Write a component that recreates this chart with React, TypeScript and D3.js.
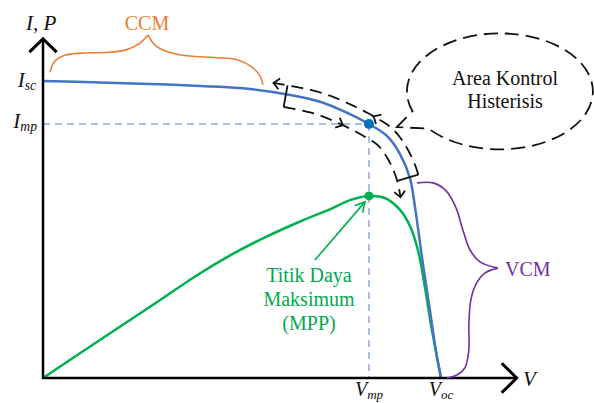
import React, { useEffect, useRef } from "react"
import * as d3 from "d3"

// I-V curve, normalised (Voc = 1, Isc = 1)
const ivVolt = [0, 0.143, 0.269, 0.395, 0.52, 0.621, 0.696, 0.759, 0.819, 0.864, 0.897, 0.922, 0.935, 0.955, 0.972, 0.987, 1.0]
const ivCurr = [1.0, 0.995, 0.99, 0.983, 0.973, 0.953, 0.93, 0.896, 0.855, 0.815, 0.754, 0.673, 0.572, 0.38, 0.229, 0.094, 0]

// P-V curve, same axes
const pvVolt = [0, 0.143, 0.269, 0.394, 0.477, 0.563, 0.646, 0.729, 0.771, 0.819, 0.859, 0.897, 0.922, 0.942, 0.96, 0.975, 1.0]
const pvPow = [0, 0.128, 0.24, 0.352, 0.418, 0.477, 0.527, 0.573, 0.599, 0.613, 0.606, 0.566, 0.512, 0.431, 0.303, 0.178, 0]

const vmp = 0.819
const imp = 0.855
const pmp = 0.613

// braces (V, I)
const ccmLeft = [[0.018, 1.03], [0.028, 1.064], [0.053, 1.086], [0.098, 1.094], [0.156, 1.096], [0.206, 1.104], [0.241, 1.125], [0.264, 1.155]]
const ccmRight = [[0.264, 1.155], [0.281, 1.121], [0.314, 1.098], [0.369, 1.084], [0.432, 1.079], [0.49, 1.071], [0.525, 1.047], [0.545, 1.017], [0.553, 0.987]]
const vcmTop = [[0.94, 0.657], [0.98, 0.657], [1.013, 0.63], [1.038, 0.572], [1.055, 0.498], [1.073, 0.431], [1.098, 0.391], [1.143, 0.37]]
const vcmBottom = [[1.143, 0.37], [1.111, 0.354], [1.088, 0.316], [1.075, 0.263], [1.07, 0.178], [1.07, 0.094], [1.06, 0.034], [1.04, 0.01], [1.015, 0]]

// hysteresis band along the I-V curve
const hystStartV = 0.61
const hystEndI = 0.677
const outerEndV = 0.575
const innerEndI = 0.615
const innerMidV = 0.766
const mppArrow = [[0.683, 0.397], [0.809, 0.593]]

const calloutCenter = [1.148, 0.965]
const calloutTip = [0.889, 0.845]
const calloutLines = ["Area Kontrol", "Histerisis"]
const mppLines = ["Titik Daya", "Maksimum", "(MPP)"]

const W = 594
const H = 403
const serif = "Liberation Serif, serif"

export default function App() {
  const ref = useRef<SVGSVGElement>(null)

  useEffect(() => {
    const svg = d3.select(ref.current)
    svg.selectAll("*").remove()

    const x = d3.scaleLinear().domain([0, 1]).range([43, 441])
    const y = d3.scaleLinear().domain([0, 1]).range([378, 81])

    const chevron = (px: number, py: number, dx: number, dy: number, size: number, spread: number) => {
      const ang = Math.atan2(dy, dx)
      const a1 = ang + Math.PI - spread
      const a2 = ang + Math.PI + spread
      return `M${px + size * Math.cos(a1)},${py + size * Math.sin(a1)}L${px},${py}L${px + size * Math.cos(a2)},${py + size * Math.sin(a2)}`
    }

    // guide lines to MPP
    svg.append("line")
      .attr("x1", x(0)).attr("x2", x(vmp)).attr("y1", y(imp)).attr("y2", y(imp))
      .attr("stroke", "#8FAADC").attr("stroke-width", 1.5).attr("stroke-dasharray", "7,5")
    svg.append("line")
      .attr("x1", x(vmp)).attr("x2", x(vmp)).attr("y1", y(imp)).attr("y2", y(0))
      .attr("stroke", "#8FAADC").attr("stroke-width", 1.5).attr("stroke-dasharray", "7,5")

    const line = d3.line<number[]>().x(d => x(d[0])).y(d => y(d[1])).curve(d3.curveCatmullRom.alpha(0.5))

    const pv = pvVolt.map((v, i) => [v, pvPow[i]])
    svg.append("path").datum(pv).attr("d", line)
      .attr("fill", "none").attr("stroke", "#00B050").attr("stroke-width", 2.5)

    const iv = ivVolt.map((v, i) => [v, ivCurr[i]])
    const blue = svg.append("path").datum(iv).attr("d", line)
      .attr("fill", "none").attr("stroke", "#4472C4").attr("stroke-width", 2.5)

    // axes
    const axisG = svg.append("g").attr("stroke", "#000").attr("fill", "none")
    axisG.append("line").attr("x1", x(0)).attr("x2", x(0)).attr("y1", y(0) + 1).attr("y2", y(1.142)).attr("stroke-width", 2.5)
    axisG.append("line").attr("x1", x(0) - 1).attr("x2", x(1.19)).attr("y1", y(0)).attr("y2", y(0)).attr("stroke-width", 2.5)
    axisG.append("path").attr("d", chevron(x(0), y(1.142), 0, -1, 19, 0.8)).attr("stroke-width", 3)
    axisG.append("path").attr("d", chevron(x(1.19), y(0), 1, 0, 21, 0.78)).attr("stroke-width", 3)

    // braces
    const braceLine = d3.line<number[]>().x(d => x(d[0])).y(d => y(d[1])).curve(d3.curveCatmullRom.alpha(0.5))
    ;[ccmLeft, ccmRight].forEach(b => svg.append("path").attr("d", braceLine(b)).attr("fill", "none").attr("stroke", "#ED7D31").attr("stroke-width", 1.6))
    ;[vcmTop, vcmBottom].forEach(b => svg.append("path").attr("d", braceLine(b)).attr("fill", "none").attr("stroke", "#7030A0").attr("stroke-width", 1.6))

    // hysteresis arrows along the I-V curve
    const node = blue.node() as SVGPathElement
    const total = node.getTotalLength()
    const samples = d3.range(0, total, 0.5).map(l => {
      const p = node.getPointAtLength(l)
      return { l, x: p.x, y: p.y }
    })
    const lenAtX = (px: number) => (samples.find(s => s.x >= px) || samples[samples.length - 1]).l
    const lenAtY = (py: number) => (samples.find(s => s.y >= py) || samples[samples.length - 1]).l
    const at = (l: number) => {
      const p = node.getPointAtLength(l)
      const q = node.getPointAtLength(Math.min(total, l + 1))
      const r = node.getPointAtLength(Math.max(0, l - 1))
      const dx = q.x - r.x
      const dy = q.y - r.y
      const n = Math.hypot(dx, dy)
      return { x: p.x, y: p.y, tx: dx / n, ty: dy / n }
    }
    const off = (l: number, d: number): [number, number] => {
      const a = at(l)
      return [a.x + a.ty * d, a.y - a.tx * d]
    }
    const outerD = 9
    const innerD = -13
    const lStart = lenAtX(x(hystStartV))
    const lEnd = lenAtY(y(hystEndI))
    const lOuterEnd = lenAtX(x(outerEndV))
    const lInnerEnd = lenAtY(y(innerEndI))

    const hyst = svg.append("g").attr("fill", "none").attr("stroke", "#111").attr("stroke-width", 1.8)
    const plain = d3.line<[number, number]>()
    const outerPts = d3.range(lEnd, lOuterEnd, -1).map(l => off(l, outerD))
    hyst.append("path").attr("d", plain(outerPts)).attr("stroke-dasharray", "12,7")
    const innerPts = d3.range(lStart, lInnerEnd, 1).map(l => off(l, innerD))
    hyst.append("path").attr("d", plain(innerPts)).attr("stroke-dasharray", "12,7")
    // end ticks across the curve
    ;[lStart, lEnd].forEach(l => hyst.append("path").attr("d", plain([off(l, outerD), off(l, innerD)])))
    // arrowheads
    const head = (l: number, d: number, dir: number) => {
      const a = at(l)
      const [px, py] = off(l, d)
      hyst.append("path").attr("d", chevron(px, py, a.tx * dir, a.ty * dir, 8, 0.75))
    }
    head(lOuterEnd, outerD, -1)
    head(lenAtX(x(vmp)), outerD, -1)
    head(lInnerEnd, innerD, 1)
    head(lenAtX(x(innerMidV)), innerD, 1)

    // MPP points
    svg.append("circle").attr("cx", x(vmp)).attr("cy", y(imp)).attr("r", 5).attr("fill", "#0070C0")
    svg.append("circle").attr("cx", x(vmp)).attr("cy", y(pmp)).attr("r", 4.5).attr("fill", "#00B050")

    // MPP pointer
    const [a0, a1] = mppArrow
    svg.append("line").attr("x1", x(a0[0])).attr("y1", y(a0[1])).attr("x2", x(a1[0])).attr("y2", y(a1[1]))
      .attr("stroke", "#00B050").attr("stroke-width", 1.6)
    svg.append("path")
      .attr("d", chevron(x(a1[0]), y(a1[1]), x(a1[0]) - x(a0[0]), y(a1[1]) - y(a0[1]), 11, 0.5))
      .attr("fill", "none").attr("stroke", "#00B050").attr("stroke-width", 1.6)

    // callout ellipse
    const cx = x(calloutCenter[0])
    const cy = y(calloutCenter[1])
    const rx = 93
    const ry = 58
    const ep = (t: number) => [cx + rx * Math.cos(t), cy + ry * Math.sin(t)]
    const p1 = ep((160 * Math.PI) / 180)
    const p2 = ep((140 * Math.PI) / 180)
    const tip = [x(calloutTip[0]), y(calloutTip[1])]
    svg.append("path")
      .attr("d", `M${tip[0]},${tip[1]}L${p1[0]},${p1[1]}A${rx},${ry} 0 1 1 ${p2[0]},${p2[1]}Z`)
      .attr("fill", "none").attr("stroke", "#111").attr("stroke-width", 1.8).attr("stroke-dasharray", "14,7")

    // texts
    const txt = svg.append("g").attr("font-family", serif)
    calloutLines.forEach((s, i) => txt.append("text").attr("x", 505).attr("y", 85 + i * 23)
      .attr("text-anchor", "middle").attr("font-size", 20).attr("fill", "#111").text(s))
    mppLines.forEach((s, i) => txt.append("text").attr("x", 309).attr("y", 282 + i * 24)
      .attr("text-anchor", "middle").attr("font-size", 20).attr("fill", "#00A850").text(s))
    txt.append("text").attr("x", 147).attr("y", 30).attr("text-anchor", "middle")
      .attr("font-size", 20).attr("fill", "#ED7D31").text("CCM")
    txt.append("text").attr("x", 505).attr("y", 276)
      .attr("font-size", 20).attr("fill", "#7030A0").text("VCM")

    const sym = (px: number, py: number, main: string, sub: string, anchor: string, size = 21) => {
      const t = txt.append("text").attr("x", px).attr("y", py).attr("text-anchor", anchor)
        .attr("font-style", "italic").attr("font-size", size).attr("fill", "#111")
      t.append("tspan").text(main)
      if (sub) t.append("tspan").attr("font-size", size * 0.65).attr("dy", 3).text(sub)
    }
    sym(36, 87, "I", "sc", "end")
    sym(37, 128, "I", "mp", "end")
    sym(x(vmp), 396, "V", "mp", "middle", 20)
    sym(x(1), 396, "V", "oc", "middle", 20)
    sym(523, 386, "V", "", "start")
    sym(26, 30, "I, P", "", "start")
  }, [])

  return (
    <svg ref={ref} width={W} height={H} style={{ position: "absolute", left: 0, top: 0, background: "#fff" }} />
  )
}
